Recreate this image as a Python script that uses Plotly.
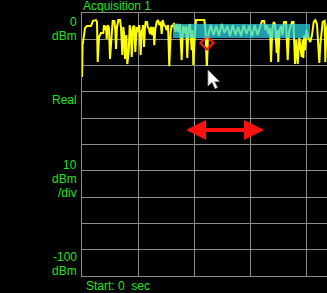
import plotly.graph_objects as go

# ---- data (time in divisions, level in dBm) ----
t_sec = [0.0, 0.01, 0.036, 0.054, 0.089, 0.161, 0.196, 0.25, 0.268, 0.28, 0.304, 0.339, 0.38,
         0.393, 0.411, 0.429, 0.441, 0.459, 0.482, 0.5, 0.53, 0.548, 0.577, 0.595, 0.607,
         0.625, 0.648, 0.679, 0.696, 0.72, 0.738, 0.755, 0.768, 0.791, 0.809, 0.834, 0.852,
         0.87, 0.888, 0.911, 0.934, 0.952, 0.977, 1.0, 1.023, 1.048, 1.063, 1.08, 1.089,
         1.107, 1.125, 1.137, 1.161, 1.173, 1.196, 1.214, 1.232, 1.25, 1.273, 1.291, 1.309,
         1.334, 1.357, 1.38, 1.405, 1.423, 1.441, 1.464, 1.488, 1.513, 1.536, 1.559, 1.584,
         1.602, 1.62, 1.643, 1.67, 1.696, 1.723, 1.75, 1.78, 1.804, 1.83, 1.857, 1.88, 1.902,
         1.929, 1.959, 1.973, 1.988, 2.018, 2.036, 2.184, 2.205, 2.227, 2.232,
         2.25, 2.299, 2.348, 2.397, 2.446, 2.496, 2.545, 2.594, 2.643, 2.692, 2.741, 2.79,
         2.839, 2.888, 2.938, 2.987, 3.036, 3.085, 3.134, 3.188,
         3.214, 3.25,
         3.277, 3.304, 3.33, 3.357, 3.375, 3.398, 3.423, 3.446, 3.477, 3.491, 3.505, 3.527,
         3.554, 3.58, 3.607, 3.643, 3.673, 3.696, 3.723, 3.75, 3.777, 3.804, 3.827, 3.852,
         3.88, 3.902, 3.923, 3.941, 3.952, 3.97, 3.982, 4.009, 4.041, 4.077, 4.107, 4.138,
         4.166, 4.196, 4.227, 4.238, 4.255, 4.277, 4.298, 4.334, 4.345, 4.366, 4.393]
level_dbm = [-24.3, -12.2, -8.4, -5.7, -4.9, -4.9, -3.0, -2.7, -3.4, -18.6, -9.1, -7.6, -7.6,
             -4.6, -6.5, -4.9, -9.9, -4.6, -5.7, -17.5, -8.4, -3.0, -3.0, -6.5, -13.7,
             -5.3, -2.7, -2.7, -5.3, -16.0, -5.3, -9.1, -17.5, -8.4, -19.4, -14.8, -4.6,
             -6.5, -16.7, -5.3, -4.9, -14.8, -5.3, -7.2, -4.6, -16.0, -7.2, -6.1, -4.6,
             -12.9, -5.3, -3.4, -3.4, -5.3, -6.1, -8.0, -5.3, -8.4, -5.3, -12.2, -6.1,
             -3.4, -2.7, -4.6, -3.4, -8.0, -2.7, -4.6, -4.9, -6.5, -4.6, -20.2, -7.2,
             -4.6, -5.3, -3.8, -7.2, -4.2, -7.2, -4.2, -17.9, -4.9, -7.6, -4.9, -17.1, -5.7,
             -4.2, -14.1, -6.5, -19.8, -7.2, -2.7, -2.7, -6.5, -19.8, -19.8,
             -8.7, -4.6, -8.4, -4.9, -8.7, -4.2, -7.6, -4.9, -8.7, -4.6, -8.4, -5.3,
             -8.7, -4.6, -8.0, -4.9, -8.7, -4.6, -8.4, -4.9,
             -3.0, -3.0,
             -6.5, -4.6, -8.0, -5.7, -18.6, -6.5, -3.4, -4.2, -15.2, -6.5, -18.6, -6.5,
             -4.9, -8.4, -3.4, -3.4, -17.9, -7.2, -5.3, -3.4, -3.4, -19.4, -10.3, -19.4,
             -9.5, -14.1, -16.7, -10.3, -17.1, -8.4, -14.1, -6.5, -9.5, -11.0, -8.4, -3.4,
             -2.7, -4.2, -14.8, -19.0, -12.2, -7.2, -3.4, -3.0, -18.6, -6.5, -3.4]

marker_t = [2.232]
marker_dbm = [-11.4]

sel_t = [1.625, 4.071]        # highlighted time span
sel_dbm = [-4.2, -9.5]        # highlighted band (top, bottom)

x_ticks = [0, 1, 2, 3, 4]
y_ticks = list(range(-100, 1, 10))

cursor_pos = (2.25, -21.7)    # mouse pointer tip
arrow_pos = (2.554, -44.5)    # centre of the double arrow

# ---- layout geometry ----
W, H = 327, 293
ML, MR, MT, MB = 82, 0, 13, 17
PX_PER_DIV_X = 56.0
PLOT_W = W - ML - MR
PLOT_H = H - MT - MB
PX_PER_DBM = PLOT_H / 100.0
X_RANGE = [0, PLOT_W / PX_PER_DIV_X]
Y_RANGE = [-100, 0]

GREEN = '#22e022'
GRID = '#8a8a8a'
FONT = 'Liberation Sans, Arial, sans-serif'


def path_from_offsets(anchor, offs):
    t0, y0 = anchor
    pts = [(t0 + dx / PX_PER_DIV_X, y0 - dy / PX_PER_DBM) for dx, dy in offs]
    return 'M ' + ' L '.join(f'{a:.5f},{b:.5f}' for a, b in pts) + ' Z'


def px_x(px):
    return (px - ML) / PLOT_W


def px_y(py):
    return (H - MB - py) / PLOT_H


fig = go.Figure()
fig.add_trace(go.Scatter(x=t_sec, y=level_dbm, mode='lines',
                         line=dict(color='#ffff00', width=2), hoverinfo='skip'))
fig.add_trace(go.Scatter(x=marker_t, y=marker_dbm, mode='markers',
                         marker=dict(symbol='diamond-open', size=10, color='#ff1a1a',
                                     line=dict(width=2.2, color='#ff1a1a')),
                         hoverinfo='skip'))

shapes = []
shapes.append(dict(type='rect', xref='x', yref='y', x0=sel_t[0], x1=sel_t[1],
                   y0=sel_dbm[0], y1=sel_dbm[1], fillcolor='rgba(45,215,235,0.72)',
                   line=dict(width=0), layer='above'))
arrow_offs = [(-39, 0), (-19, -10), (-19, -2), (19, -2), (19, -10), (39, 0),
              (19, 10), (19, 2), (-19, 2), (-19, 10)]
shapes.append(dict(type='path', xref='x', yref='y', path=path_from_offsets(arrow_pos, arrow_offs),
                   fillcolor='#ff1010', line=dict(width=0), layer='above'))
cursor_offs = [(0, 0), (0, 16), (4, 12), (7, 18.5), (9.5, 17.5), (6.5, 11.5), (11.5, 11.5)]
shapes.append(dict(type='path', xref='x', yref='y', path=path_from_offsets(cursor_pos, cursor_offs),
                   fillcolor='#ffffff', line=dict(width=0.8, color='#9a9a9a'), layer='above'))

annotations = []


def label(text, px, py, anchor='right'):
    annotations.append(dict(text=text, xref='paper', yref='paper', x=px_x(px), y=px_y(py),
                            xanchor=anchor, yanchor='middle', showarrow=False,
                            font=dict(family=FONT, size=12, color=GREEN)))


label('Acquisition 1', 81, 6.5, 'left')
label('0', 79, 21.5)
label('dBm', 79, 36)
label('Real', 79, 99.5)
label('10', 79, 164.5)
label('dBm', 79, 179)
label('/div', 79, 192.5)
label('-100', 79, 256.5)
label('dBm', 79, 271)
label('Start: 0\u00a0 sec', 84, 286, 'left')

fig.update_layout(
    width=W, height=H,
    margin=dict(l=ML, r=MR, t=MT, b=MB, pad=0),
    paper_bgcolor='#000000', plot_bgcolor='#000000',
    showlegend=False,
    shapes=shapes, annotations=annotations,
    xaxis=dict(range=X_RANGE, tickvals=x_ticks, showgrid=True, gridcolor=GRID, gridwidth=1,
               showticklabels=False, ticks='', zeroline=False,
               showline=True, linecolor=GRID, linewidth=1, mirror=True, fixedrange=True),
    yaxis=dict(range=Y_RANGE, tickvals=y_ticks, showgrid=True, gridcolor=GRID, gridwidth=1,
               showticklabels=False, ticks='', zeroline=False,
               showline=True, linecolor=GRID, linewidth=1, mirror=False, fixedrange=True),
)

fig.write_html('out.html', config={'displayModeBar': False})
